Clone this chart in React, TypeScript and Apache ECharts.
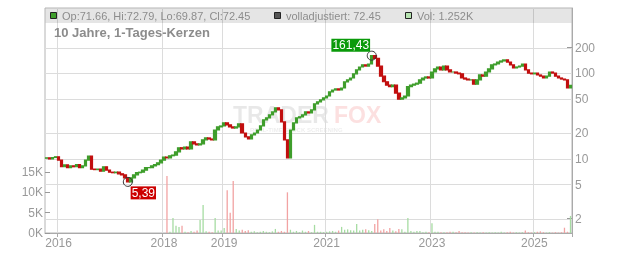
import { useEffect, useRef } from "react";
import * as echarts from "echarts";

// ---- data ----
const yearCounts: [number, number][] = [
  [2015, 4], [2016, 17], [2017, 18], [2018, 20], [2019, 17], [2020, 17],
  [2021, 18], [2022, 17], [2023, 17], [2024, 17], [2025, 13],
];
const shownYears = [2016, 2018, 2019, 2021, 2023, 2025];

const firstOpen = 10.2;
const closes = [
  10.3, 10.0, 10.4, 10.6, 9.7, 8.1, 8.5, 7.9, 8.3, 8.1,
  8.6, 7.9, 8.3, 9.7, 10.8, 7.6, 7.5, 7.6, 7.2, 8.1,
  7.4, 7.0, 6.9, 7.0, 6.7, 6.5, 6.0, 5.39, 6.0, 6.5,
  6.9, 7.0, 7.4, 7.9, 7.9, 8.3, 8.6, 9.0, 9.7, 10.5,
  10.3, 10.9, 11.1, 12.1, 13.5, 13.1, 13.8, 13.1, 15.8, 15.0,
  14.6, 15.0, 16.7, 17.6, 17.1, 16.7, 21.8, 23.7, 24.3, 26.4,
  25.0, 23.7, 23.0, 23.7, 25.7, 20.1, 18.1, 17.1, 19.1, 20.1,
  21.8, 24.3, 28.6, 30.2, 32.7, 35.5, 39.5, 37.4, 27.1, 16.7,
  10.3, 21.8, 26.4, 30.2, 31.1, 32.7, 35.5, 34.5, 37.4, 44,
  46.5, 49, 51.7, 54.5, 60.8, 64, 66, 64, 67.6, 79.6,
  84, 88.5, 99, 110, 119, 126, 122, 129, 161.43, 150,
  122, 93, 80, 73, 70, 73, 59, 50, 51.7, 54.5,
  70, 73, 75, 77, 84, 88.5, 91, 88.5, 104, 113,
  119, 110, 122, 110, 104, 104, 101, 99, 88.5, 86,
  84, 84, 75, 84, 96, 93, 104, 113, 126, 129,
  136, 140, 144, 136, 126, 116, 119, 122, 129, 110,
  101, 99, 101, 96, 93, 88.5, 93, 104, 101, 93,
  88.5, 86, 84, 67.6, 72.45,
];
const volumesK = [
  0, 0, 0, 0, 0, 0, 0, 0, 0, 0,
  0, 0, 0, 0, 0, 0, 0, 0, 0, 0,
  0, 0, 0, 0, 0, 0, 0, 0, 0, 0,
  0, 0, 0, 0, 0, 0, 0, 0, 0, 0,
  14.0, 0.3, 3.7, 1.8, 1.5, 1.8, 0.3, 0.2, 0.5, 0.3,
  0.6, 3.2, 6.9, 0.4, 0.3, 0.2, 3.7, 0.6, 0.6, 1.2,
  10.5, 5.0, 12.8, 1.0, 0.6, 0.8, 0.5, 0.7, 0.3, 0.4,
  0.2, 0.3, 0.5, 0.3, 0.2, 0.4, 1.0, 0.3, 0.5, 0.3,
  10.0, 0.8, 0.3, 0.5, 0.2, 0.6, 0.3, 0.5, 0.2, 2.0,
  0.3, 0.3, 0.2, 0.3, 0.4, 0.5, 0.3, 0.6, 1.5, 0.8,
  0.9, 0.7, 0.6, 2.2, 0.6, 0.8, 0.9, 0.7, 0.5, 2.2,
  3.4, 0.6, 0.9, 0.5, 1.2, 0.6, 0.4, 1.0, 0.9, 0.3,
  3.7, 0.5, 0.3, 0.5, 0.5, 0.2, 0.3, 0.2, 2.4, 0.3,
  0.3, 0.2, 0.2, 0.2, 0.3, 0.3, 0.2, 0.5, 0.2, 0.2,
  0.1, 0.2, 0.1, 0.2, 0.1, 0.2, 0.1, 0.2, 0.1, 0.2,
  0.1, 0.3, 0.1, 0.2, 0.3, 0.1, 0.2, 0.1, 0.2, 0.6,
  0.2, 0.1, 0.2, 0.3, 0.4, 0.2, 0.1, 0.2, 0.1, 0.2,
  0.1, 0.2, 1.3, 0.3, 4.2,
];
const priceTicks = [2, 5, 10, 20, 50, 100, 200];
const volumeTicksK = [0, 5, 10, 15];
const priceRange = [1.36, 583];
const headerOhlc = "Op:71.66, Hi:72.79, Lo:69.87, Cl:72.45";
const headerAdj = "volladjustiert: 72.45";
const headerVol = "Vol: 1.252K";
const titleText = "10 Jahre, 1-Tages-Kerzen";

const FONT = "'Liberation Sans', Arial, sans-serif";
const UP = "#3f9e2c";
const DOWN = "#c20f0f";
const VUP = "#a6dca2";
const VDOWN = "#f2a3a3";
const GRID = "#dcdcdc";
const AX = "#aaaaaa";
const LBL = "#999999";

const lg = (v: number) => Math.log10(v);
const fmtDe = (v: number) => v.toFixed(2).replace(".", ",");

export default function App() {
  const ref = useRef<HTMLDivElement>(null);
  useEffect(() => {
    if (!ref.current) return;
    const chart = echarts.init(ref.current, undefined, { renderer: "svg" });

    const cats: string[] = [];
    yearCounts.forEach(([y, n]) => {
      for (let k = 0; k < n; k++) cats.push(String(y));
    });
    const isYearStart = (i: number) =>
      shownYears.includes(Number(cats[i])) && (i === 0 || cats[i - 1] !== cats[i]);

    const opens = closes.map((c, i) => (i === 0 ? firstOpen : closes[i - 1]));
    const candles = closes.map((c, i) => {
      const o = opens[i];
      return [lg(o), lg(c), lg(Math.min(o, c)), lg(Math.max(o, c))];
    });
    const vols = volumesK.map((v, i) => ({
      value: v * 1000,
      itemStyle: { color: closes[i] >= opens[i] ? VUP : VDOWN },
    }));

    let iMax = 0;
    let iMin = 0;
    closes.forEach((c, i) => {
      if (c > closes[iMax]) iMax = i;
      if (c < closes[iMin]) iMin = i;
    });

    const priceLogTicks = priceTicks.map(lg);

    chart.setOption({
      animation: false,
      textStyle: { fontFamily: FONT },
      grid: [
        { left: 45, right: 60, top: 8, bottom: 20, show: true, borderColor: "#b4b4b4", borderWidth: 1, backgroundColor: "transparent" },
        { left: 45, right: 60, top: 172, bottom: 20 },
      ],
      xAxis: [
        {
          type: "category",
          gridIndex: 0,
          data: cats,
          boundaryGap: true,
          axisLine: { show: true, lineStyle: { color: AX } },
          axisTick: { show: true, length: 4, interval: (i: number) => isYearStart(i), lineStyle: { color: AX } },
          axisLabel: {
            show: true,
            interval: (i: number) => isYearStart(i),
            color: LBL,
            fontSize: 12,
            fontFamily: FONT,
            margin: 4,
          },
          splitLine: { show: true, interval: (i: number) => isYearStart(i), lineStyle: { color: GRID, width: 1 } },
        },
        {
          type: "category",
          gridIndex: 1,
          data: cats,
          boundaryGap: true,
          show: false,
        },
      ],
      yAxis: [
        {
          type: "value",
          gridIndex: 0,
          position: "right",
          min: lg(priceRange[0]),
          max: lg(priceRange[1]),
          axisLine: { show: true, lineStyle: { color: AX } },
          axisTick: { show: true, inside: true, length: 5, customValues: priceLogTicks, lineStyle: { color: "#999" } },
          axisLabel: {
            show: true,
            customValues: priceLogTicks,
            formatter: (v: number) => String(Math.round(Math.pow(10, v))),
            color: LBL,
            fontSize: 12,
            fontFamily: FONT,
            margin: 3,
          },
          splitLine: { show: false },
        },
        {
          type: "value",
          gridIndex: 1,
          position: "left",
          min: 0,
          max: 15000,
          interval: 5000,
          axisLine: { show: false },
          axisTick: { show: true, inside: true, length: 5, lineStyle: { color: "#999" } },
          axisLabel: {
            show: true,
            formatter: (v: number) => (volumeTicksK.includes(v / 1000) ? `${v / 1000}K` : ""),
            color: LBL,
            fontSize: 12,
            fontFamily: FONT,
            margin: 2,
          },
          splitLine: { show: false },
        },
      ],
      series: [
        {
          type: "bar",
          xAxisIndex: 1,
          yAxisIndex: 1,
          data: vols,
          barWidth: 1.3,
          z: 1,
          silent: true,
        },
        {
          type: "candlestick",
          xAxisIndex: 0,
          yAxisIndex: 0,
          data: candles,
          barWidth: 3,
          barMinWidth: 3,
          z: 3,
          itemStyle: { color: UP, color0: DOWN, borderColor: UP, borderColor0: DOWN, borderWidth: 1.2 },
          markLine: {
            silent: true,
            z: 1,
            symbol: ["none", "none"],
            label: { show: false },
            lineStyle: { color: GRID, width: 1, type: "solid" },
            data: priceLogTicks.map((v) => ({ yAxis: v })),
          },
          markPoint: {
            silent: true,
            z: 6,
            data: [
              {
                coord: [iMax, lg(closes[iMax])],
                symbol: "circle",
                symbolSize: 9,
                itemStyle: { color: "rgba(0,0,0,0)", borderColor: "#333", borderWidth: 1 },
                label: {
                  show: true,
                  formatter: fmtDe(closes[iMax]),
                  position: "inside",
                  offset: [-21, -10.5],
                  color: "#fff",
                  backgroundColor: "#0a9a0a",
                  padding: [1, 1, 0, 1],
                  fontSize: 12,
                  lineHeight: 12,
                  fontFamily: FONT,
                },
              },
              {
                coord: [iMin, lg(closes[iMin])],
                symbol: "circle",
                symbolSize: 9,
                itemStyle: { color: "rgba(0,0,0,0)", borderColor: "#333", borderWidth: 1 },
                label: {
                  show: true,
                  formatter: fmtDe(closes[iMin]),
                  position: "inside",
                  offset: [15.5, 11],
                  color: "#fff",
                  backgroundColor: "#cc0000",
                  padding: [1, 1, 0, 1],
                  fontSize: 12,
                  lineHeight: 12,
                  fontFamily: FONT,
                },
              },
            ],
          },
        },
      ],
      graphic: [
        // watermark
        { type: "text", z: 0, x: 233, y: 115, style: { text: "TRADER", fill: "rgba(0,0,0,0.09)", font: `bold 23px ${FONT}`, verticalAlign: "middle", align: "left" } },
        { type: "text", z: 0, x: 334, y: 115, style: { text: "FOX", fill: "rgba(235,70,70,0.17)", font: `bold 23px ${FONT}`, verticalAlign: "middle", align: "left" } },
        { type: "text", z: 0, x: 250, y: 130, style: { text: "REAL-TIME STOCK SCREENING", fill: "rgba(0,0,0,0.08)", font: `bold 6px ${FONT}`, verticalAlign: "middle", align: "left" } },
        // header band
        { type: "rect", z: 10, shape: { x: 45.5, y: 8.5, width: 526, height: 14.5 }, style: { fill: "rgba(0,0,0,0.1)" } },
        { type: "rect", z: 11, shape: { x: 50.5, y: 12.5, width: 6, height: 6 }, style: { fill: UP, stroke: "#222", lineWidth: 1 } },
        { type: "text", z: 11, x: 62, y: 16, style: { text: headerOhlc, fill: "#8c8c8c", font: `11px ${FONT}`, verticalAlign: "middle", align: "left" } },
        { type: "rect", z: 11, shape: { x: 274.5, y: 12.5, width: 6, height: 6 }, style: { fill: "#555", stroke: "#222", lineWidth: 1 } },
        { type: "text", z: 11, x: 286, y: 16, style: { text: headerAdj, fill: "#8c8c8c", font: `11px ${FONT}`, verticalAlign: "middle", align: "left" } },
        { type: "rect", z: 11, shape: { x: 405.5, y: 12.5, width: 6, height: 6 }, style: { fill: "#b6e3b0", stroke: "#222", lineWidth: 1 } },
        { type: "text", z: 11, x: 417, y: 16, style: { text: headerVol, fill: "#8c8c8c", font: `11px ${FONT}`, verticalAlign: "middle", align: "left" } },
        // title
        { type: "text", z: 11, x: 54, y: 32.5, style: { text: titleText, fill: "#8c8c8c", font: `bold 13px ${FONT}`, verticalAlign: "middle", align: "left" } },
      ],
    });
    return () => chart.dispose();
  }, []);
  return <div ref={ref} style={{ position: "fixed", left: 0, top: 0, width: 632, height: 253 }} />;
}
